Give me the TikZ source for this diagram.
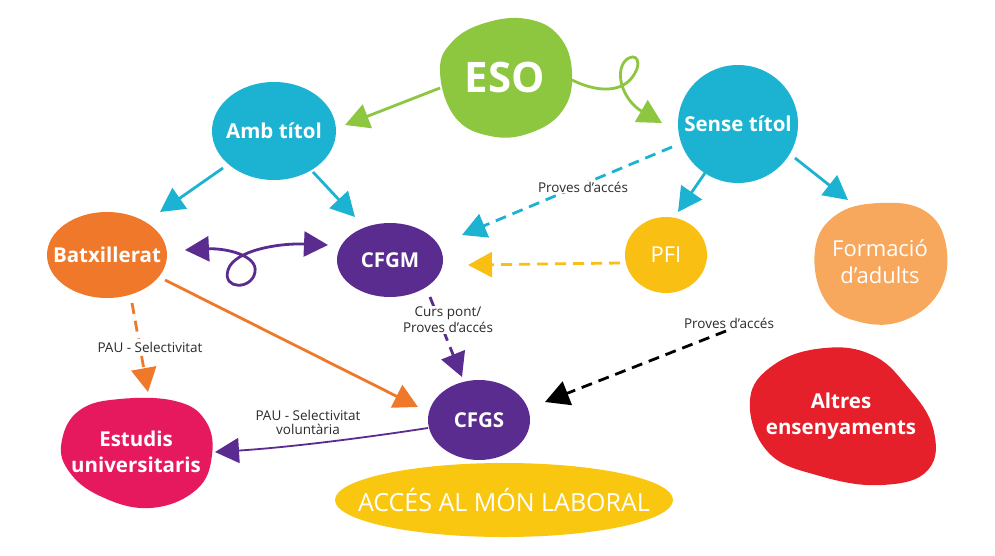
\documentclass[tikz,border=0pt]{standalone}
\usepackage{fontspec}
\setmainfont{Open Sans}
\usetikzlibrary{arrows.meta,shapes.geometric,calc}
\definecolor{esogreen}{HTML}{8DC63F}
\definecolor{tcyan}{HTML}{1BB3D1}
\definecolor{batorange}{HTML}{F0782A}
\definecolor{fpurple}{HTML}{5B2C8F}
\definecolor{pfiyellow}{HTML}{F9C013}
\definecolor{adultorange}{HTML}{F7A85C}
\definecolor{unimagenta}{HTML}{E6195E}
\definecolor{altred}{HTML}{E5202B}
\definecolor{laboryellow}{HTML}{F9C70F}
\definecolor{labelgray}{HTML}{2B2B2B}
\begin{document}
\begin{tikzpicture}[x=1pt,y=-1pt,
  nodelbl/.style={text=white,font=\bfseries\fontsize{20.5}{24}\selectfont,align=center,inner sep=0pt},
  note/.style={font=\fontsize{13.5}{15}\selectfont,text=labelgray,align=center,inner sep=1pt},
  conn/.style={line width=2.8pt},
  head/.style={-{Triangle[length=24pt,width=25pt]}},
  dsh/.style={dash pattern=on 11pt off 7pt}]
\useasboundingbox[fill=white] (0,0) rectangle (995,556);

% ---------- shapes ----------
\fill[esogreen] plot[smooth cycle,tension=0.7] coordinates {(440,72) (452,42) (485,23) (527,19) (559,36) (572,72) (563,110) (530,133) (490,136) (455,117)};
\fill[unimagenta] plot[smooth cycle,tension=0.7] coordinates {(62,440) (80,410) (120,399) (175,401) (205,420) (212,455) (196,490) (150,508) (100,496) (68,470)};
\fill[adultorange] plot[smooth cycle,tension=0.7] coordinates {(815,250) (836,215) (880,203) (925,211) (946,245) (940,290) (905,320) (860,322) (825,300)};
\fill[altred] plot[smooth cycle,tension=0.7] coordinates {(750,400) (775,364) (825,348) (872,355) (906,385) (933,428) (928,470) (882,485) (820,476) (768,452)};
\fill[tcyan] (274,131) ellipse [x radius=62, y radius=49];
\fill[tcyan] (738,124) ellipse [x radius=60, y radius=59];
\fill[batorange] (107,255) ellipse [x radius=60, y radius=43];
\fill[fpurple] (390,260) ellipse [x radius=53, y radius=37];
\fill[pfiyellow] (666,255) ellipse [x radius=41, y radius=38];
\fill[fpurple] (479,420) ellipse [x radius=51, y radius=40];
\fill[laboryellow] (504,500) ellipse [x radius=169, y radius=37];

% ---------- nodes ----------
\node[nodelbl,font=\bfseries\fontsize{42}{46}\selectfont] (eso) at (505,77) {ESO};
\node[nodelbl] (amb) at (274,131) {Amb títol};
\node[nodelbl] (sense) at (738,124) {Sense títol};
\node[nodelbl] (batx) at (107,255) {Batxillerat};
\node[nodelbl] (cfgm) at (390,260) {CFGM};
\node[nodelbl,font=\fontsize{22}{24}\selectfont] (pfi) at (666,255) {PFI};
\node[nodelbl,font=\fontsize{22}{27}\selectfont] (form) at (880,262) {Formació\\d’adults};
\node[nodelbl] (cfgs) at (479,420) {CFGS};
\node[nodelbl,font=\bfseries\fontsize{20.5}{26}\selectfont] (estud) at (136,452) {Estudis\\universitaris};
\node[nodelbl,font=\fontsize{25}{28}\selectfont] (acces) at (504,500) {ACCÉS AL MÓN LABORAL};
\node[nodelbl,font=\bfseries\fontsize{20.5}{26}\selectfont] (altres) at (841,416) {Altres\\ensenyaments};

\coordinate (pstart) at (726,331);

% ---------- connectors ----------
\draw[conn,esogreen,head] ($(eso)+(-65,11)$) -- ($(amb)+(71,-6)$);
\draw[conn,esogreen,head] ($(eso)+(67,3)$) .. controls (592,90) and (616,94) .. (630,80)
   .. controls (645,63) and (636,50) .. (625,61)
   .. controls (614,74) and (624,101) .. ($(sense)+(-76,-1)$);
\draw[conn,tcyan,head] ($(amb)+(-51,37)$) -- ($(batx)+(53,-43)$);
\draw[conn,tcyan,head] ($(amb)+(39,41)$) -- ($(cfgm)+(-35,-43)$);
\draw[conn,tcyan,head] ($(sense)+(-33,49)$) -- ($(pfi)+(12,-43)$);
\draw[conn,tcyan,head] ($(sense)+(57,34)$) -- ($(form)+(-32,-62)$);
\draw[conn,tcyan,dsh,head] ($(sense)+(-66,23)$) -- ($(cfgm)+(72,-25)$);
\draw[conn,pfiyellow,dsh,head] ($(pfi)+(-46,8)$) -- ($(cfgm)+(78,5)$);
\draw[conn,fpurple,{Triangle[length=24pt,width=25pt]}-{Triangle[length=24pt,width=25pt]}]
   ($(batx)+(78,-5)$) .. controls (225,248) and (258,255) .. (255,272)
   .. controls (252,290) and (222,290) .. (228,270)
   .. controls (234,250) and (280,243) .. ($(cfgm)+(-62,-15)$);
\draw[conn,batorange,head] ($(batx)+(58,25)$) -- ($(cfgs)+(-61,-13)$);
\draw[conn,batorange,dsh,head] ($(batx)+(25,48)$) -- ($(estud)+(12,-60)$);
\draw[conn,fpurple,dsh,head] ($(cfgm)+(40,37)$) -- ($(cfgs)+(-17,-43)$);
\draw[conn,black,dsh,head] (pstart) -- ($(cfgs)+(66,-18)$);
\draw[line width=1.8pt,fpurple,head] ($(cfgs)+(-51,8)$) .. controls (350,440) and (280,448) .. ($(estud)+(79,0)$);

% ---------- labels (drawn over the lines) ----------
\node[note,fill=white,inner xsep=3pt] (lproves1) at (583,187) {Proves d’accés};
\node[note,fill=white,inner ysep=3pt] (lpau1) at (150,347) {PAU - Selectivitat};
\node[note,fill=white,font=\fontsize{13.5}{16}\selectfont] (lcurs) at (448,320) {Curs pont/\\Proves d’accés};
\node[note] (lproves2) at (729,323) {Proves d’accés};
\node[note,font=\fontsize{13.5}{14}\selectfont] (lpau2) at (308,422) {PAU - Selectivitat\\voluntària};
\end{tikzpicture}
\end{document}
